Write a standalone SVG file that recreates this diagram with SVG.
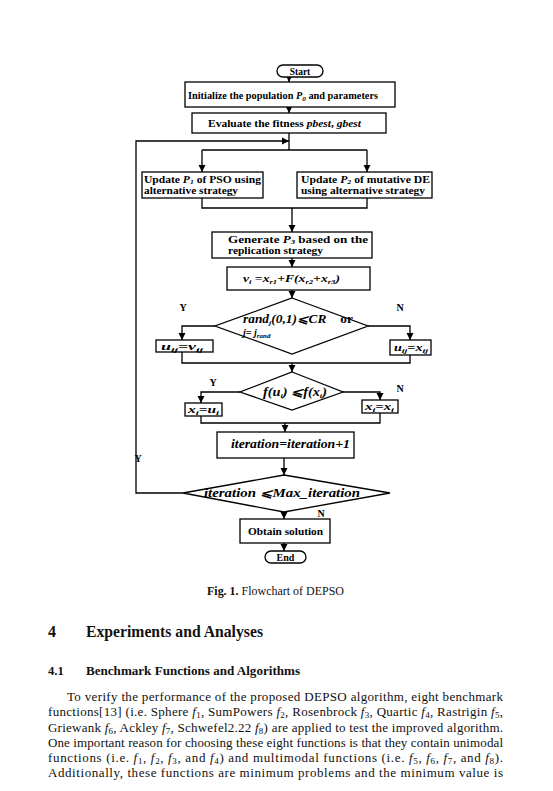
<svg xmlns="http://www.w3.org/2000/svg" width="553" height="791" viewBox="0 0 553 791">
<defs>
<marker id="ah" markerWidth="8" markerHeight="8" refX="7" refY="4" orient="auto" markerUnits="userSpaceOnUse">
<path d="M0,0.5 L7,4 L0,7.5 Z" fill="#000"/>
</marker>
<style>
.bx{fill:#fff;stroke:#000;stroke-width:1.3}
.ln{fill:none;stroke:#000;stroke-width:1.3}
.ar{fill:none;stroke:#000;stroke-width:1.3;marker-end:url(#ah)}
.t{font-family:"Liberation Serif",serif;font-weight:bold;font-size:10.5px;fill:#000}
.m{font-family:"Liberation Serif",serif;font-weight:bold;font-style:italic;font-size:11px;fill:#000}
.lb{font-family:"Liberation Serif",serif;font-weight:bold;font-size:10px;fill:#000;text-anchor:middle}
.p{font-family:"Liberation Serif",serif;font-size:13px;fill:#111}
.i{font-style:italic}
.s{font-size:7px}
.s8{font-size:9px}
</style>
</defs>
<rect width="553" height="791" fill="#fff"/>

<g id="connectors">
<line class="ar" x1="289" y1="77" x2="289" y2="82"/>
<line class="ar" x1="289" y1="107" x2="289" y2="113"/>
<line class="ln" x1="289" y1="133" x2="289" y2="150"/>
<line class="ln" x1="202" y1="150" x2="367" y2="150"/>
<line class="ar" x1="202" y1="150" x2="202" y2="172"/>
<line class="ar" x1="367" y1="150" x2="367" y2="172"/>
<polyline class="ln" points="202,198 202,208 367,208 367,198"/>
<line class="ar" x1="292" y1="208" x2="292" y2="232"/>
<line class="ar" x1="292" y1="258" x2="292" y2="267"/>
<line class="ar" x1="292" y1="290" x2="292" y2="298"/>
<polyline class="ar" points="215,326 182,326 182,340"/>
<polyline class="ar" points="368,326 410,326 410,340"/>
<polyline class="ln" points="182,352 182,363 410,363 410,355"/>
<line class="ar" x1="292" y1="363" x2="292" y2="372"/>
<polyline class="ar" points="240,392 201,392 201,403"/>
<polyline class="ar" points="343,392 380,392 380,400"/>
<polyline class="ln" points="201,416 201,423 380,423 380,413"/>
<line class="ar" x1="285" y1="423" x2="285" y2="432"/>
<line class="ar" x1="284" y1="458" x2="284" y2="475"/>
<polyline class="ar" points="183,493 136,493 136,141 289,141"/>
<line class="ar" x1="284" y1="512" x2="284" y2="519"/>
<line class="ar" x1="284" y1="543" x2="284" y2="551"/>
<text class="lb" x="183" y="311">Y</text>
<text class="lb" x="400" y="311">N</text>
<text class="lb" x="213" y="386">Y</text>
<text class="lb" x="400" y="392">N</text>
<text class="lb" x="138" y="462">Y</text>
<text class="lb" x="321" y="517">N</text>
</g>

<g id="start">
<rect class="bx" x="277" y="65" width="46" height="12" rx="6"/>
<text class="t" x="300" y="74.5" text-anchor="middle" style="font-size:9.5px">Start</text>
</g>

<g id="init">
<rect class="bx" x="185" y="82" width="210" height="25"/>
<text class="t" x="188" y="99" textLength="190" lengthAdjust="spacingAndGlyphs" style="font-size:10px">Initialize the population <tspan class="i">P</tspan><tspan class="i s" dy="2">0</tspan><tspan dy="-2"> and parameters</tspan></text>
</g>

<g id="evaluate">
<rect class="bx" x="192" y="113" width="194" height="20"/>
<text class="t" x="208" y="127" textLength="153" lengthAdjust="spacingAndGlyphs" style="font-size:11px">Evaluate the fitness <tspan class="i">pbest</tspan>, <tspan class="i">gbest</tspan></text>
</g>

<g id="update-pso">
<rect class="bx" x="142" y="172" width="121" height="26"/>
<text class="t" x="144" y="182.5" textLength="117" lengthAdjust="spacingAndGlyphs">Update <tspan class="i">P</tspan><tspan class="i s" dy="1.5">1</tspan><tspan dy="-1.5"> of PSO using</tspan></text>
<text class="t" x="144" y="194" textLength="94" lengthAdjust="spacingAndGlyphs">alternative strategy</text>
</g>

<g id="update-de">
<rect class="bx" x="297" y="172" width="135" height="26"/>
<text class="t" x="301" y="182.5" textLength="129" lengthAdjust="spacingAndGlyphs">Update <tspan class="i">P</tspan><tspan class="i s" dy="1.5">2</tspan><tspan dy="-1.5"> of mutative DE</tspan></text>
<text class="t" x="301" y="194" textLength="124" lengthAdjust="spacingAndGlyphs">using alternative strategy</text>
</g>

<g id="generate">
<rect class="bx" x="212" y="232" width="160" height="26"/>
<text class="t" x="228" y="242.5" textLength="140" lengthAdjust="spacingAndGlyphs">Generate <tspan class="i">P</tspan><tspan class="i s" dy="1.5">3</tspan><tspan dy="-1.5"> based on the</tspan></text>
<text class="t" x="228" y="254" textLength="95" lengthAdjust="spacingAndGlyphs">replication strategy</text>
</g>

<g id="mutation">
<rect class="bx" x="227" y="267" width="143" height="23"/>
<text class="m" x="243" y="282" textLength="97" lengthAdjust="spacingAndGlyphs">v<tspan class="s" dy="2">i</tspan><tspan dy="-2"> =x</tspan><tspan class="s" dy="2">r1</tspan><tspan dy="-2">+F(x</tspan><tspan class="s" dy="2">r2</tspan><tspan dy="-2">+x</tspan><tspan class="s" dy="2">r3</tspan><tspan dy="-2">)</tspan></text>
</g>

<g id="crossover-decision">
<polygon class="bx" points="292,298 368,326 292,354 215,326"/>
<text class="m" x="243" y="323" style="font-size:11.5px" textLength="110" lengthAdjust="spacingAndGlyphs">rand<tspan class="s" dy="2">j</tspan><tspan dy="-2">(0,1)⩽CR</tspan><tspan font-style="normal" dx="12">or</tspan></text>
<text class="m" x="243" y="336" style="font-size:10px">j= j<tspan class="s" dy="2">rand</tspan></text>
</g>

<g id="u-eq-v">
<rect class="bx" x="156" y="340" width="57" height="12"/>
<text class="m" x="161" y="350" textLength="42" lengthAdjust="spacingAndGlyphs" style="font-size:10px">u<tspan class="s" dy="1.5">ij</tspan><tspan dy="-1.5">=v</tspan><tspan class="s" dy="1.5">ij</tspan></text>
</g>

<g id="u-eq-x">
<rect class="bx" x="390" y="340" width="41" height="15"/>
<text class="m" x="394" y="351" textLength="34" lengthAdjust="spacingAndGlyphs" style="font-size:10px">u<tspan class="s" dy="1.5">ij</tspan><tspan dy="-1.5">=x</tspan><tspan class="s" dy="1.5">ij</tspan></text>
</g>

<g id="selection-decision">
<polygon class="bx" points="292,372 343,392 292,410 240,392"/>
<text class="m" x="263" y="396" style="font-size:12px" textLength="64" lengthAdjust="spacingAndGlyphs">f(u<tspan class="s" dy="2">i</tspan><tspan dy="-2">) ⩽f(x</tspan><tspan class="s" dy="2">i</tspan><tspan dy="-2">)</tspan></text>
</g>

<g id="x-eq-u">
<rect class="bx" x="185" y="403" width="37" height="13"/>
<text class="m" x="188" y="413" textLength="31" lengthAdjust="spacingAndGlyphs" style="font-size:10px">x<tspan class="s" dy="1.5">i</tspan><tspan dy="-1.5">=u</tspan><tspan class="s" dy="1.5">i</tspan></text>
</g>

<g id="x-eq-x">
<rect class="bx" x="362" y="400" width="36" height="13"/>
<text class="m" x="365" y="410" textLength="29" lengthAdjust="spacingAndGlyphs" style="font-size:10px">x<tspan class="s" dy="1.5">i</tspan><tspan dy="-1.5">=x</tspan><tspan class="s" dy="1.5">i</tspan></text>
</g>

<g id="iteration-update">
<rect class="bx" x="217" y="432" width="137" height="26"/>
<text class="m" x="231" y="448" style="font-size:11.5px" textLength="119" lengthAdjust="spacingAndGlyphs">iteration=iteration+1</text>
</g>

<g id="termination-decision">
<polygon class="bx" points="284,475 390,493 284,512 183,493"/>
<text class="m" x="204" y="497" style="font-size:11.5px" textLength="156" lengthAdjust="spacingAndGlyphs">iteration ⩽Max_iteration</text>
</g>

<g id="obtain">
<rect class="bx" x="240" y="519" width="90" height="24"/>
<text class="t" x="248" y="535" textLength="75" lengthAdjust="spacingAndGlyphs">Obtain solution</text>
</g>

<g id="end">
<rect class="bx" x="265" y="551" width="41" height="12" rx="6"/>
<text class="t" x="285.5" y="560.5" text-anchor="middle" style="font-size:10px">End</text>
</g>

<g id="page-text">
<text class="p" x="207" y="595" style="font-size:12px" textLength="137" lengthAdjust="spacingAndGlyphs"><tspan font-weight="bold">Fig. 1.</tspan> Flowchart of DEPSO</text>
<text class="p" x="48" y="637" style="font-size:16px;font-weight:bold">4</text>
<text class="p" x="86" y="637" style="font-size:16px;font-weight:bold" textLength="177" lengthAdjust="spacingAndGlyphs">Experiments and Analyses</text>
<text class="p" x="48" y="675" style="font-size:12.5px;font-weight:bold">4.1</text>
<text class="p" x="86" y="675" style="font-size:12.5px;font-weight:bold" textLength="214" lengthAdjust="spacingAndGlyphs">Benchmark Functions and Algorithms</text>
<text class="p" x="67" y="701" textLength="436" lengthAdjust="spacing">To verify the performance of the proposed DEPSO algorithm, eight benchmark</text>
<text class="p" x="48" y="716" textLength="455" lengthAdjust="spacing">functions[13] (i.e. Sphere <tspan class="i">f</tspan><tspan class="s8" dy="2">1</tspan><tspan dy="-2">, SumPowers </tspan><tspan class="i">f</tspan><tspan class="s8" dy="2">2</tspan><tspan dy="-2">, Rosenbrock </tspan><tspan class="i">f</tspan><tspan class="s8" dy="2">3</tspan><tspan dy="-2">, Quartic </tspan><tspan class="i">f</tspan><tspan class="s8" dy="2">4</tspan><tspan dy="-2">, Rastrigin </tspan><tspan class="i">f</tspan><tspan class="s8" dy="2">5</tspan><tspan dy="-2">,</tspan></text>
<text class="p" x="48" y="732" textLength="455" lengthAdjust="spacing">Griewank <tspan class="i">f</tspan><tspan class="s8" dy="2">6</tspan><tspan dy="-2">, Ackley </tspan><tspan class="i">f</tspan><tspan class="s8" dy="2">7</tspan><tspan dy="-2">, Schwefel2.22 </tspan><tspan class="i">f</tspan><tspan class="s8" dy="2">8</tspan><tspan dy="-2">) are applied to test the improved algorithm.</tspan></text>
<text class="p" x="48" y="747" textLength="455" lengthAdjust="spacing">One important reason for choosing these eight functions is that they contain unimodal</text>
<text class="p" x="48" y="762" textLength="455" lengthAdjust="spacing">functions (i.e. <tspan class="i">f</tspan><tspan class="s8" dy="2">1</tspan><tspan dy="-2">, </tspan><tspan class="i">f</tspan><tspan class="s8" dy="2">2</tspan><tspan dy="-2">, </tspan><tspan class="i">f</tspan><tspan class="s8" dy="2">3</tspan><tspan dy="-2">, and </tspan><tspan class="i">f</tspan><tspan class="s8" dy="2">4</tspan><tspan dy="-2">) and multimodal functions (i.e. </tspan><tspan class="i">f</tspan><tspan class="s8" dy="2">5</tspan><tspan dy="-2">, </tspan><tspan class="i">f</tspan><tspan class="s8" dy="2">6</tspan><tspan dy="-2">, </tspan><tspan class="i">f</tspan><tspan class="s8" dy="2">7</tspan><tspan dy="-2">, and </tspan><tspan class="i">f</tspan><tspan class="s8" dy="2">8</tspan><tspan dy="-2">).</tspan></text>
<text class="p" x="48" y="777" textLength="455" lengthAdjust="spacing">Additionally, these functions are minimum problems and the minimum value is</text>
</g>
</svg>
